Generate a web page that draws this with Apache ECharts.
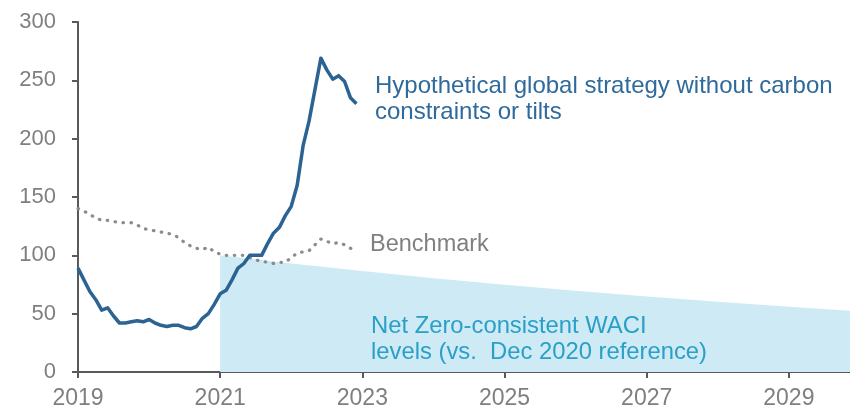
<!DOCTYPE html>
<html>
<head>
<meta charset="utf-8">
<script src="https://cdn.jsdelivr.net/npm/echarts@6/dist/echarts.min.js"></script>
<style>
html,body{margin:0;padding:0;background:#fff;}
#chart{width:850px;height:410px;}
</style>
</head>
<body>
<div id="chart"></div>
<script>
// Monthly series, starting January 2019
var startYear = 2019;
var strategy = [89, 79, 69, 62, 53, 55, 48, 42, 42, 43, 44, 43,
                45, 42, 40, 39, 40, 40, 38, 37, 39, 46, 50, 58,
                67, 70, 79, 89, 93, 100, 100, 100, 110, 119, 124, 134,
                142, 160, 194, 215, 242, 269, 259, 251, 254, 249, 235, 230];
var benchmark = [140, 138, 135, 132, 130, 130, 129, 128, 128, 128, 126, 123,
                 122, 121, 120, 119, 118, 115, 111, 108, 106, 105, 107, 103,
                 101, 100, 100, 100, 100, 98, 96, 95, 94, 93, 94, 94,
                 98, 102, 103, 104, 109, 114, 112, 110, 111, 109, 106, 105];
// Net Zero-consistent WACI path (year, level)
var netZeroYears = [2021, 2022, 2023, 2024, 2025, 2026, 2027, 2028, 2029, 2029.86];
var netZeroValues = [100, 93, 86.5, 80.4, 74.8, 69.6, 64.7, 60.2, 56, 52.5];
var xTicks = [2019, 2021, 2023, 2025, 2027, 2029];

function monthly(arr) {
  return arr.map(function (v, i) { return [startYear + i / 12, v]; });
}

var FONT = 'Liberation Sans, Arial, sans-serif';
var chart = echarts.init(document.getElementById('chart'));
chart.setOption({
  animation: false,
  backgroundColor: '#ffffff',
  grid: {left: 78, right: 0, top: 22, bottom: 38, containLabel: false},
  xAxis: {
    type: 'value', min: 2019, max: 2029.86,
    splitLine: {show: false},
    axisLine: {show: true, lineStyle: {color: '#595959', width: 2}},
    axisTick: {show: true, length: 6, lineStyle: {color: '#595959', width: 2}, customValues: xTicks},
    axisLabel: {color: '#7f7f7f', fontSize: 23, fontFamily: FONT, margin: 15, customValues: xTicks,
      formatter: function (v) { return String(Math.round(v)); }}
  },
  yAxis: {
    type: 'value', min: 0, max: 300, interval: 50,
    splitLine: {show: false},
    axisLine: {show: true, lineStyle: {color: '#595959', width: 2}},
    axisTick: {show: true, length: 6, lineStyle: {color: '#595959', width: 2}},
    axisLabel: {color: '#7f7f7f', fontSize: 22, fontFamily: FONT, margin: 22}
  },
  series: [
    {
      name: 'Net Zero', type: 'line', data: netZeroValues.map(function (v, i) { return [netZeroYears[i], v]; }),
      symbol: 'none', lineStyle: {width: 0, color: '#cdeaf5'},
      areaStyle: {color: '#cdeaf5', opacity: 1}, z: 1
    },
    {
      name: 'Benchmark', type: 'line', data: monthly(benchmark),
      symbol: 'none', smooth: false,
      lineStyle: {color: '#8c8c8c', width: 3.2, type: [0.5, 7.5], cap: 'round'}, z: 2
    },
    {
      name: 'Strategy', type: 'line', data: monthly(strategy),
      symbol: 'none', smooth: false,
      lineStyle: {color: '#2b6393', width: 3.5, join: 'round'}, z: 3
    }
  ],
  graphic: [
    {type: 'text', z: 100, left: 375, top: 73, style: {text: 'Hypothetical global strategy without carbon\nconstraints or tilts',
      fill: '#2e6a9b', font: '24px ' + FONT, lineHeight: 26}},
    {type: 'text', z: 100, left: 370, top: 233, style: {text: 'Benchmark', fill: '#808080', font: '23.5px ' + FONT}},
    {type: 'text', z: 100, left: 371, top: 313, style: {text: 'Net Zero-consistent WACI\nlevels (vs.  Dec 2020 reference)',
      fill: '#2a9fc7', font: '23.8px ' + FONT, lineHeight: 26}}
  ]
});
</script>
</body>
</html>
